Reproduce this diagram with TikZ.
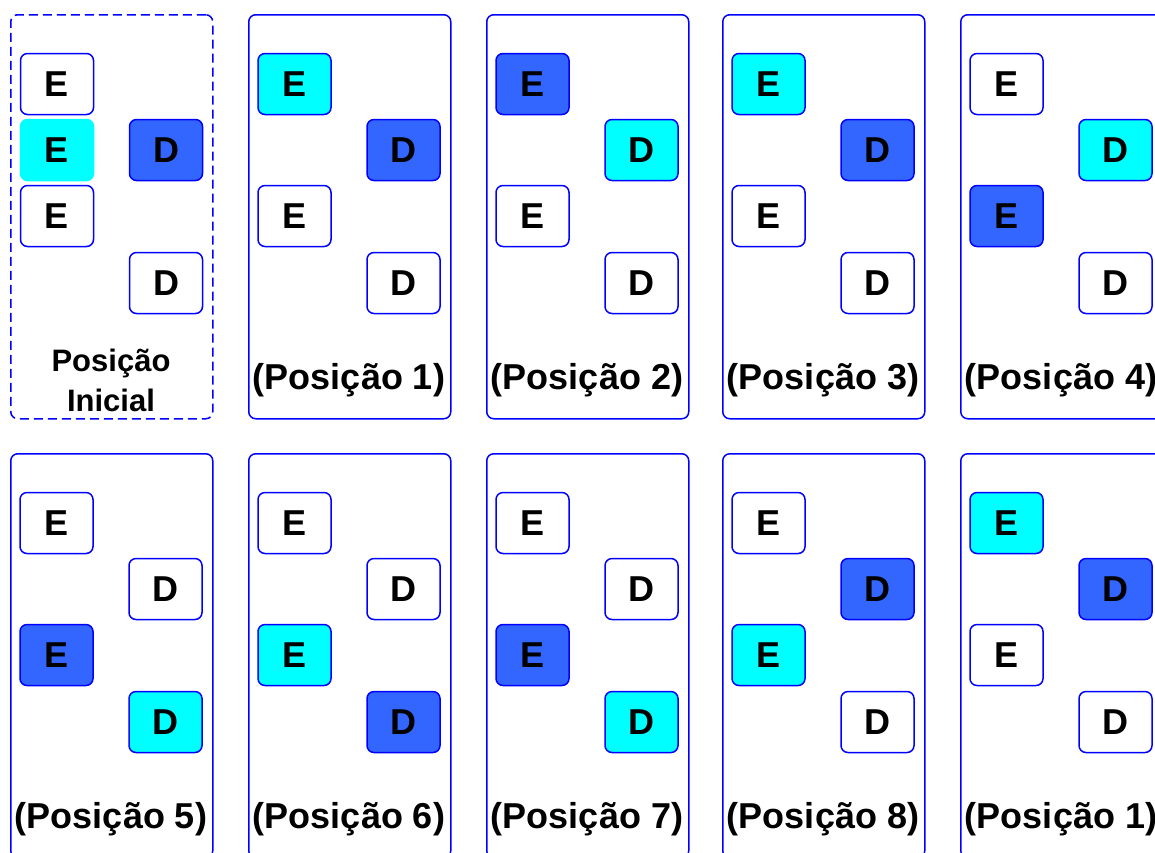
\documentclass[tikz,border=0pt]{standalone}
\usepackage{fontspec}
\setmainfont{Liberation Sans}
\usetikzlibrary{positioning}
\definecolor{moveblue}{HTML}{3366FF}
\definecolor{turnblue}{HTML}{00FFFF}

\begin{document}
\begin{tikzpicture}[x=1pt, y=-1pt,
    panel/.style={rectangle, draw=blue, rounded corners=7pt, line width=1.5pt, minimum width=202pt, minimum height=404pt, anchor=north west, inner sep=0pt},
    piece/.style={rectangle, draw=blue, fill=white, rounded corners=7pt, line width=1.5pt, minimum width=73pt, minimum height=61pt, inner sep=0pt, font=\fontsize{36}{36}\selectfont\bfseries},
    cur/.style={piece, fill=turnblue},
    nxt/.style={piece, fill=moveblue},
    caption/.style={anchor=base, inner sep=0pt, font=\fontsize{36}{36}\selectfont\bfseries}
]
\useasboundingbox (0,0) rectangle (1155,852);
\clip (0,0) rectangle (1155,852);

% initial position
\node[panel, dash pattern=on 9pt off 5pt] (pos0) at (10,14) {};
\node[piece] (pos0e1) at (57,84) {E};
\node[cur, draw=turnblue] (pos0e2) at (57,150) {E};
\node[piece] (pos0e3) at (57,216) {E};
\node[nxt] (pos0d1) at (166,150) {D};
\node[piece] (pos0d2) at (166,283) {D};
\node[align=center, inner sep=0pt, font=\fontsize{31}{40}\selectfont\bfseries] (lab0) at (111,380) {Posição\\Inicial};

% positions 1 to 8, then 1 again
\foreach \i/\px/\py/\n/\a/\b/\c/\d in {
    1/248/14/1/cur/nxt/piece/piece,
    2/486/14/2/nxt/cur/piece/piece,
    3/722/14/3/cur/nxt/piece/piece,
    4/960/14/4/piece/cur/nxt/piece,
    5/10/453/5/piece/piece/nxt/cur,
    6/248/453/6/piece/piece/cur/nxt,
    7/486/453/7/piece/piece/nxt/cur,
    8/722/453/8/piece/nxt/cur/piece,
    9/960/453/1/cur/nxt/piece/piece}
{
    \node[panel] (pos\i) at (\px,\py) {};
    \node[\a] (pos\i e1) at (\px+46.5,\py+70) {E};
    \node[\b] (pos\i d1) at (\px+155.5,\py+136) {D};
    \node[\c] (pos\i e2) at (\px+46.5,\py+202) {E};
    \node[\d] (pos\i d2) at (\px+155.5,\py+269) {D};
    \node[caption] (lab\i) at (\px+101,\py+375) {(Posição \n)};
}
\end{tikzpicture}
\end{document}
